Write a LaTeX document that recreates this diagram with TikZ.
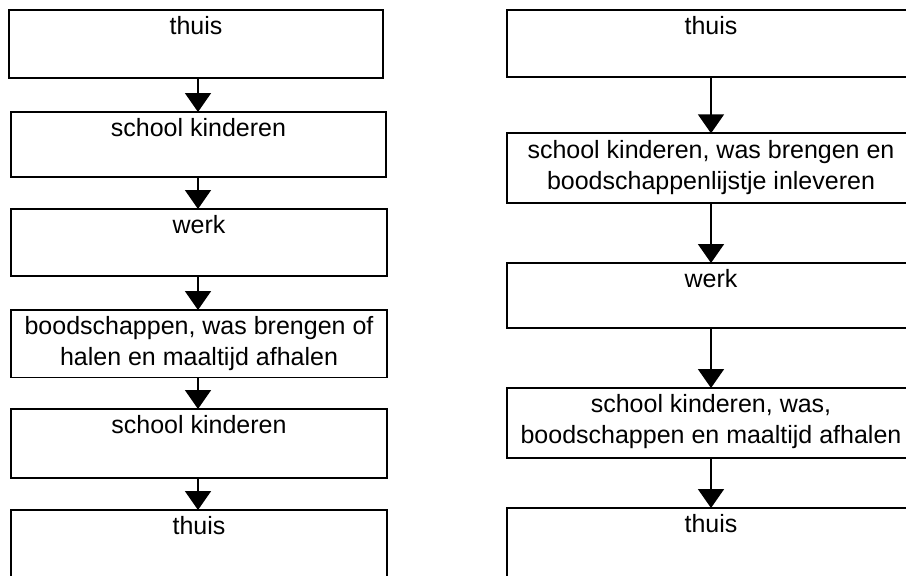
\documentclass[tikz,border=0pt]{standalone}
\usepackage{fontspec}
\setmainfont{Liberation Sans}
\usetikzlibrary{arrows.meta}
\tikzset{
  boxnode/.style={draw=black, line width=1.8pt, fill=white, rectangle, inner sep=0pt, outer sep=0pt},
  txt/.style={font=\fontsize{25}{31}\selectfont, align=center, inner sep=0pt, anchor=north, text=black},
  arr/.style={draw=black, line width=1.8pt, -{Triangle[width=26pt,length=19pt]}}
}
\begin{document}
\begin{tikzpicture}[x=1pt,y=1pt]
\useasboundingbox (0,0) rectangle (906,-576);
\clip (0,0) rectangle (906,-576);
\fill[white] (0,0) rectangle (906,-576);
% left column
\node[boxnode, minimum width=374, minimum height=68] (l1) at (196,-44) {};
\node[boxnode, minimum width=375, minimum height=65] (l2) at (198.5,-144.5) {};
\node[boxnode, minimum width=376, minimum height=67] (l3) at (199,-242.5) {};
\node[boxnode, minimum width=376, minimum height=67.5] (l4) at (199,-343.75) {};
\node[boxnode, minimum width=376, minimum height=69] (l5) at (199,-443.5) {};
\node[boxnode, minimum width=376, minimum height=90] (l6) at (199,-555) {};
% right column
\node[boxnode, minimum width=408, minimum height=67] (r1) at (711,-43.5) {};
\node[boxnode, minimum width=408, minimum height=70] (r2) at (711,-168.3) {};
\node[boxnode, minimum width=408, minimum height=65] (r3) at (711,-295.5) {};
\node[boxnode, minimum width=408, minimum height=69.7] (r4) at (711,-422.85) {};
\node[boxnode, minimum width=408, minimum height=92] (r5) at (711,-554) {};
% texts
\node[txt] (tl1) at ([yshift=-2.8pt]l1.north) {\strut thuis};
\node[txt] (tl2) at ([yshift=-2.8pt]l2.north) {\strut school kinderen};
\node[txt] (tl3) at ([yshift=-2.8pt]l3.north) {\strut werk};
\node[txt] (tl4) at ([yshift=-2.8pt]l4.north) {\strut boodschappen, was brengen of\\halen en maaltijd afhalen};
\node[txt] (tl5) at ([yshift=-2.8pt]l5.north) {\strut school kinderen};
\node[txt] (tl6) at ([yshift=-2.8pt]l6.north) {\strut thuis};
\node[txt] (tr1) at ([yshift=-2.8pt]r1.north) {\strut thuis};
\node[txt] (tr2) at ([yshift=-2.8pt]r2.north) {\strut school kinderen, was brengen en\\boodschappenlijstje inleveren};
\node[txt] (tr3) at ([yshift=-2.8pt]r3.north) {\strut werk};
\node[txt] (tr4) at ([yshift=-2.8pt]r4.north) {\strut school kinderen, was,\\boodschappen en maaltijd afhalen};
\node[txt] (tr5) at ([yshift=-2.8pt]r5.north) {\strut thuis};
% arrows
\coordinate (ax) at (198,0);
\draw[arr] (l1.south -| ax) -- (l2.north -| ax);
\draw[arr] (l2.south -| ax) -- (l3.north -| ax);
\draw[arr] (l3.south -| ax) -- (l4.north -| ax);
\draw[arr] (l4.south -| ax) -- (l5.north -| ax);
\draw[arr] (l5.south -| ax) -- (l6.north -| ax);
\draw[arr] (r1.south) -- (r2.north);
\draw[arr] (r2.south) -- (r3.north);
\draw[arr] (r3.south) -- (r4.north);
\draw[arr] (r4.south) -- (r5.north);
\end{tikzpicture}
\end{document}
